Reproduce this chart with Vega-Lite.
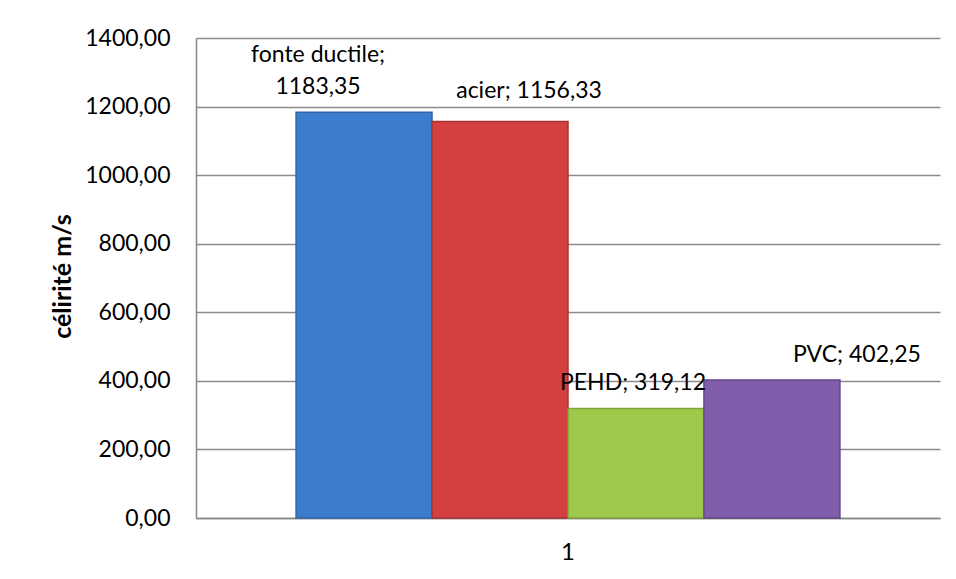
{
  "$schema": "https://vega.github.io/schema/vega-lite/v6.json",
  "width": 744,
  "height": 480,
  "autosize": {"type": "none"},
  "padding": {"left": 196, "top": 38, "right": 16, "bottom": 61},
  "background": "white",
  "config": {"view": {"stroke": null}, "font": "Lato", "text": {"font": "Lato"}},
  "data": {
    "values": [
      {"cat": "1", "material": "fonte ductile", "value": 1183.35, "label": "fonte ductile;\n1183,35"},
      {"cat": "1", "material": "acier", "value": 1156.33, "label": "acier; 1156,33"},
      {"cat": "1", "material": "PEHD", "value": 319.12, "label": "PEHD; 319,12"},
      {"cat": "1", "material": "PVC", "value": 402.25, "label": "PVC; 402,25"}
    ]
  },
  "encoding": {
    "x": {
      "field": "cat",
      "type": "nominal",
      "scale": {"paddingInner": 0, "paddingOuter": 0.184},
      "axis": {
        "title": null,
        "labelAngle": 0,
        "labelFontSize": 24,
        "labelColor": "black",
        "labelPadding": 22,
        "ticks": false,
        "grid": false,
        "domainColor": "#868686",
        "domainWidth": 1.5
      }
    },
    "xOffset": {
      "field": "material",
      "type": "nominal",
      "sort": ["fonte ductile", "acier", "PEHD", "PVC"],
      "scale": {"paddingInner": 0, "paddingOuter": 0}
    },
    "y": {
      "field": "value",
      "type": "quantitative",
      "scale": {"domain": [0, 1400], "nice": false},
      "axis": {
        "values": [0, 200, 400, 600, 800, 1000, 1200, 1400],
        "labelExpr": "replace(format(datum.value, '.2f'), '.', ',')",
        "labelFontSize": 23,
        "labelColor": "black",
        "labelPadding": 26,
        "ticks": false,
        "domainColor": "#868686",
        "domainWidth": 1.5,
        "gridColor": "#8C8C8C",
        "gridWidth": 1.5,
        "title": "célirité m/s",
        "titleFontSize": 25,
        "titleFontWeight": "bold",
        "titleColor": "black",
        "titleX": -134,
        "titleY": 238,
        "titleBaseline": "middle",
        "titleAlign": "center"
      }
    }
  },
  "layer": [
    {
      "mark": {"type": "bar", "strokeWidth": 1.5},
      "encoding": {
        "color": {
          "field": "material",
          "type": "nominal",
          "scale": {
            "domain": ["fonte ductile", "acier", "PEHD", "PVC"],
            "range": ["#3C7CCD", "#D43F3F", "#9DC84A", "#7F5DAA"]
          },
          "legend": null
        },
        "stroke": {
          "field": "material",
          "type": "nominal",
          "scale": {
            "domain": ["fonte ductile", "acier", "PEHD", "PVC"],
            "range": ["#2F64A8", "#A83232", "#7FA23A", "#634787"]
          },
          "legend": null
        }
      }
    },
    {
      "transform": [{"filter": "datum.material === 'fonte ductile'"}],
      "mark": {"type": "text", "lineBreak": "\n", "lineHeight": 32, "baseline": "alphabetic", "dx": -46, "dy": -50, "fontSize": 23, "color": "black"},
      "encoding": {"text": {"field": "label"}}
    },
    {
      "transform": [{"filter": "datum.material === 'acier'"}],
      "mark": {"type": "text", "baseline": "alphabetic", "dx": 29, "dy": -24, "fontSize": 23, "color": "black"},
      "encoding": {"text": {"field": "label"}}
    },
    {
      "transform": [{"filter": "datum.material === 'PEHD'"}],
      "mark": {"type": "text", "baseline": "alphabetic", "dx": -3, "dy": -19, "fontSize": 23, "color": "black"},
      "encoding": {"text": {"field": "label"}}
    },
    {
      "transform": [{"filter": "datum.material === 'PVC'"}],
      "mark": {"type": "text", "baseline": "alphabetic", "dx": 85, "dy": -18, "fontSize": 23, "color": "black"},
      "encoding": {"text": {"field": "label"}}
    }
  ]
}
